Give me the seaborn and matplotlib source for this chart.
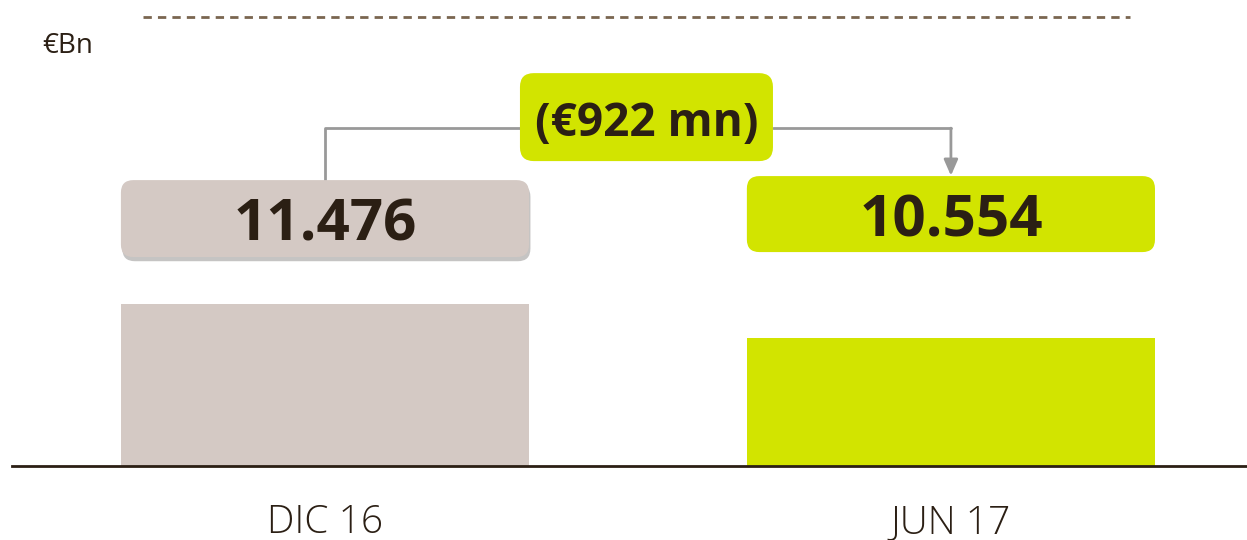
import matplotlib
matplotlib.use("Agg")
import matplotlib.pyplot as plt
import matplotlib.patheffects as pe
from matplotlib.patches import FancyBboxPatch
import pandas as pd
import seaborn as sns

# data
periods = ["DIC 16", "JUN 17"]
values = [11.476, 10.554]
value_labels = ["11.476", "10.554"]
change_label = "(€922 mn)"
unit_label = "€Bn"

GREY = "#d4c9c4"
LIME = "#d2e400"
DARK = "#2b1f14"
LINE = "#999999"

sns.set_theme(style="white")
plt.rcParams["font.family"] = ["Open Sans", "DejaVu Sans"]

df = pd.DataFrame({"period": periods, "value": values})

fig = plt.figure(figsize=(12.47, 5.40), dpi=100)
ax = fig.add_axes([12 / 1247, 74 / 540, 1235 / 1247, 466 / 540])

sns.barplot(data=df, x="period", y="value", hue="period",
            palette=[GREY, LIME], width=0.652, legend=False, ax=ax,
            saturation=1, linewidth=0)

ax.set_xlim(-0.5, 1.473)
ax.set_ylim(7.08, 19.73)
ax.set_yticks([])
ax.set_xlabel("")
ax.set_ylabel("")
for s in ["top", "right", "left"]:
    ax.spines[s].set_visible(False)
ax.spines["bottom"].set_color(DARK)
ax.spines["bottom"].set_linewidth(2)
ax.tick_params(axis="x", length=0, pad=27, labelsize=28, labelcolor=DARK)
for lbl in ax.get_xticklabels():
    lbl.set_fontweight("light")

# value boxes above the bars
aspect = (1 / 36.85) / (1 / 626)
box_y = [(12.752, 14.841), (12.887, 14.950)]
box_colors = [GREY, LIME]
for i, (lab, (y0, y1), c) in enumerate(zip(value_labels, box_y, box_colors)):
    box = FancyBboxPatch((i - 0.326, y0), 0.652, y1 - y0,
                         boxstyle="round,pad=0,rounding_size=0.02",
                         mutation_aspect=aspect, fc=c, ec="none", zorder=3)
    if i == 0:
        box.set_path_effects([pe.SimplePatchShadow(offset=(1, -3), alpha=0.3), pe.Normal()])
    ax.add_patch(box)
    ax.text(i, (y0 + y1) / 2 - 0.2, lab, ha="center", va="center",
            fontsize=42, fontweight="bold", color=DARK, zorder=4)

# change box
ax.add_patch(FancyBboxPatch((0.3115, 15.357), 0.4042, 17.745 - 15.357,
                            boxstyle="round,pad=0,rounding_size=0.022",
                            mutation_aspect=aspect, fc=LIME, ec="none", zorder=3))
ax.text(0.5136, 16.38, change_label, ha="center", va="center",
        fontsize=33, fontweight="bold", color=DARK, zorder=4)

# connector
ax.plot([0, 0, 0.3115], [14.841, 16.252, 16.252], color=LINE, lw=2, zorder=2)
ax.plot([0.7157, 1.0], [16.252, 16.252], color=LINE, lw=2, zorder=2)
ax.annotate("", xy=(1.0, 14.96), xytext=(1.0, 16.252),
            arrowprops=dict(arrowstyle="-|>,head_length=0.8,head_width=0.35",
                            color=LINE, lw=2, shrinkA=0, shrinkB=0), zorder=2)

# unit and dashed rule
fig.text(42 / 1247, 1 - 46 / 540, unit_label, ha="left", va="center",
         fontsize=20, color=DARK)
ax.axhline(19.26, xmin=0.106, xmax=0.905, color="#7a6650", lw=2,
           ls=(0, (3, 2.2)))

fig.savefig("out.png", dpi=100)
